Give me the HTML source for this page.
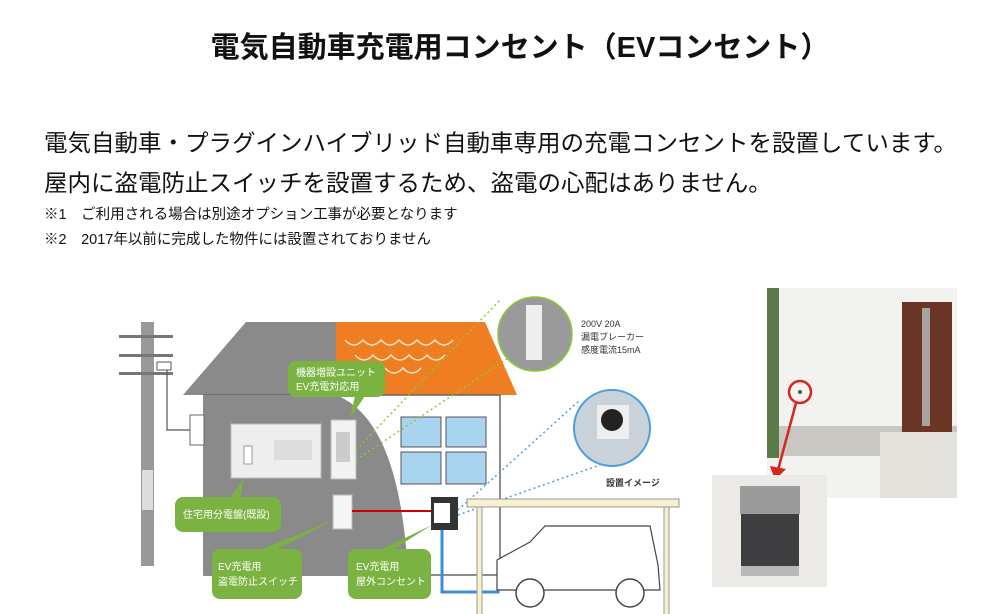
<!DOCTYPE html>
<html><head><meta charset="utf-8"><style>
body{margin:0;width:1000px;height:614px;background:#fff;overflow:hidden;position:relative;font-family:"Liberation Sans","Noto Sans CJK JP",sans-serif;color:#111}
.t{position:absolute;white-space:nowrap}
</style></head><body>
<div class="t" style="left:0;width:1040px;text-align:center;top:24px;font-size:29px;font-weight:bold">電気自動車充電用コンセント（EVコンセント）</div>
<div class="t" style="left:44px;top:124px;font-size:23.5px">電気自動車・プラグインハイブリッド自動車専用の充電コンセントを設置しています。</div>
<div class="t" style="left:44px;top:164px;font-size:23.5px">屋内に盗電防止スイッチを設置するため、盗電の心配はありません。</div>
<div class="t" style="left:44px;top:203px;font-size:14.5px">※1　ご利用される場合は別途オプション工事が必要となります</div>
<div class="t" style="left:44px;top:228px;font-size:14.5px">※2　2017年以前に完成した物件には設置されておりません</div>
<svg width="1000" height="614" style="position:absolute;left:0;top:0" font-family="Liberation Sans,Noto Sans CJK JP,sans-serif">
<rect x="141" y="322" width="13" height="244" fill="#999"/>
<rect x="142" y="470" width="11" height="40" fill="#ddd"/>
<g fill="#777"><rect x="119" y="335" width="54" height="3"/><rect x="119" y="354" width="54" height="3"/><rect x="119" y="372" width="54" height="3"/></g>
<rect x="157" y="362" width="14" height="8" fill="#fff" stroke="#555"/>
<polyline points="167,370 167,430 190,430" fill="none" stroke="#555" stroke-width="1.2"/>
<polygon points="183,395 246,322 336,322 336,395" fill="#8a8a8a"/>
<polygon points="336,322 485,322 517,395 336,395" fill="#ef7d22"/>
<g fill="none" stroke="#fde3c6" stroke-width="1.5">
<path d="M345,340 q9,10 18,0 q9,10 18,0 q9,10 18,0 q9,10 18,0 q9,10 18,0 q9,10 18,0"/>
<path d="M355,355 q9,10 18,0 q9,10 18,0 q9,10 18,0 q9,10 18,0 q9,10 18,0"/>
<path d="M385,368 q9,10 18,0 q9,10 18,0"/>
</g>
<rect x="204" y="395" width="296" height="180" fill="#fff" stroke="#666" stroke-width="1.5"/>
<path d="M204,395 L336,395 Q400,420 408,575 L204,575 Z" fill="#8a8a8a"/>
<rect x="190" y="415" width="14" height="30" fill="#fff" stroke="#666"/>
<g fill="#a8d4ef" stroke="#555" stroke-width="1"><rect x="401" y="417" width="40" height="30"/><rect x="446" y="417" width="40" height="30"/><rect x="401" y="452" width="40" height="32"/><rect x="446" y="452" width="40" height="32"/></g>
<rect x="231" y="424" width="90" height="54" fill="#eee" stroke="#bbb"/>
<rect x="244" y="446" width="8" height="18" fill="#fff" stroke="#999"/>
<rect x="274" y="440" width="38" height="20" fill="#ddd"/>
<rect x="331" y="420" width="25" height="59" fill="#f2f2f2" stroke="#bbb"/>
<rect x="336" y="432" width="14" height="30" fill="#ccc"/>
<rect x="333" y="495" width="19" height="34" fill="#f5f5f5" stroke="#bbb"/>
<line x1="352" y1="511" x2="431" y2="511" stroke="#c00" stroke-width="2"/>
<rect x="431" y="497" width="27" height="33" fill="#333"/><rect x="434" y="503" width="16" height="20" fill="#fff"/>
<path d="M442,530 V592 H498 V560" fill="none" stroke="#3b8fd8" stroke-width="3"/>
<g stroke="#8c3" stroke-width="1.5" stroke-dasharray="2,3" fill="none"><line x1="356" y1="450" x2="500" y2="300"/><line x1="356" y1="460" x2="520" y2="350"/></g>
<g stroke="#4a9fe0" stroke-width="1.5" stroke-dasharray="2,3" fill="none"><line x1="458" y1="510" x2="580" y2="400"/><line x1="458" y1="515" x2="600" y2="465"/></g>
<circle cx="535" cy="334" r="37" fill="#9a9a9a" stroke="#8c3" stroke-width="1.5"/>
<rect x="526" y="305" width="16" height="55" fill="#eee"/>
<circle cx="612" cy="428" r="38" fill="#c9d2d8" stroke="#4a9fe0" stroke-width="2"/>
<rect x="597" y="405" width="32" height="34" fill="#eee"/><circle cx="612" cy="420" r="11" fill="#222"/>
<text x="581" y="327" font-size="9" fill="#333">200V 20A</text>
<text x="581" y="340" font-size="9" fill="#333">漏電ブレーカー</text>
<text x="581" y="353" font-size="9" fill="#333">感度電流15mA</text>
<text x="606" y="486" font-size="9" font-weight="bold" fill="#333">設置イメージ</text>
<rect x="467" y="499" width="212" height="8" fill="#f8efcf" stroke="#999"/>
<rect x="477" y="507" width="5" height="124" fill="#f8efcf" stroke="#999"/>
<rect x="664" y="507" width="5" height="124" fill="#f8efcf" stroke="#999"/>
<path d="M497,580 L497,560 L530,542 L545,526 L650,526 L658,565 L660,590 L497,590 Z" fill="#fff" stroke="#444" stroke-width="1.2"/>
<circle cx="530" cy="593" r="14" fill="#fff" stroke="#444" stroke-width="1.5"/><circle cx="630" cy="593" r="14" fill="#fff" stroke="#444" stroke-width="1.5"/>
<g fill="#7bb342">
<rect x="288" y="361" width="97" height="36" rx="8"/><polygon points="355,396 365,396 350,418"/>
<rect x="175" y="497" width="106" height="35" rx="8"/><polygon points="230,498 240,498 244,478"/>
<rect x="212" y="549" width="90" height="50" rx="8"/><polygon points="260,550 275,550 334,520"/>
<rect x="348" y="549" width="83" height="50" rx="8"/><polygon points="380,550 392,550 432,525"/>
</g>
<g fill="#fff" font-size="10">
<text x="296" y="376">機器増設ユニット</text><text x="296" y="390">EV充電対応用</text>
<text x="183" y="518">住宅用分電盤(既設)</text>
<text x="218" y="570">EV充電用</text><text x="218" y="585">盗電防止スイッチ</text>
<text x="356" y="570">EV充電用</text><text x="356" y="585">屋外コンセント</text>
</g>
<rect x="767" y="288" width="190" height="210" fill="#f2f2f0"/>
<rect x="767" y="288" width="12" height="170" fill="#5a7a4a"/>
<rect x="779" y="426" width="178" height="30" fill="#c9c7c2"/>
<rect x="880" y="432" width="77" height="66" fill="#e3e1dc"/>
<rect x="902" y="302" width="50" height="130" fill="#6a3524"/>
<rect x="922" y="308" width="8" height="118" fill="#a9a59e"/>
<circle cx="800" cy="392" r="11" fill="none" stroke="#d9261c" stroke-width="2.5"/><circle cx="800" cy="392" r="2" fill="#555"/>
<line x1="796" y1="403" x2="778" y2="470" stroke="#d9261c" stroke-width="2.5"/>
<polygon points="770,466 786,469 775,480" fill="#d9261c"/>
<rect x="712" y="475" width="115" height="112" fill="#eceae6"/>
<rect x="740" y="486" width="60" height="28" fill="#9b9b9b"/>
<rect x="741" y="514" width="58" height="52" fill="#3e3e40"/>
<rect x="741" y="566" width="58" height="10" fill="#b8b8b8"/>
</svg>
</body></html>
